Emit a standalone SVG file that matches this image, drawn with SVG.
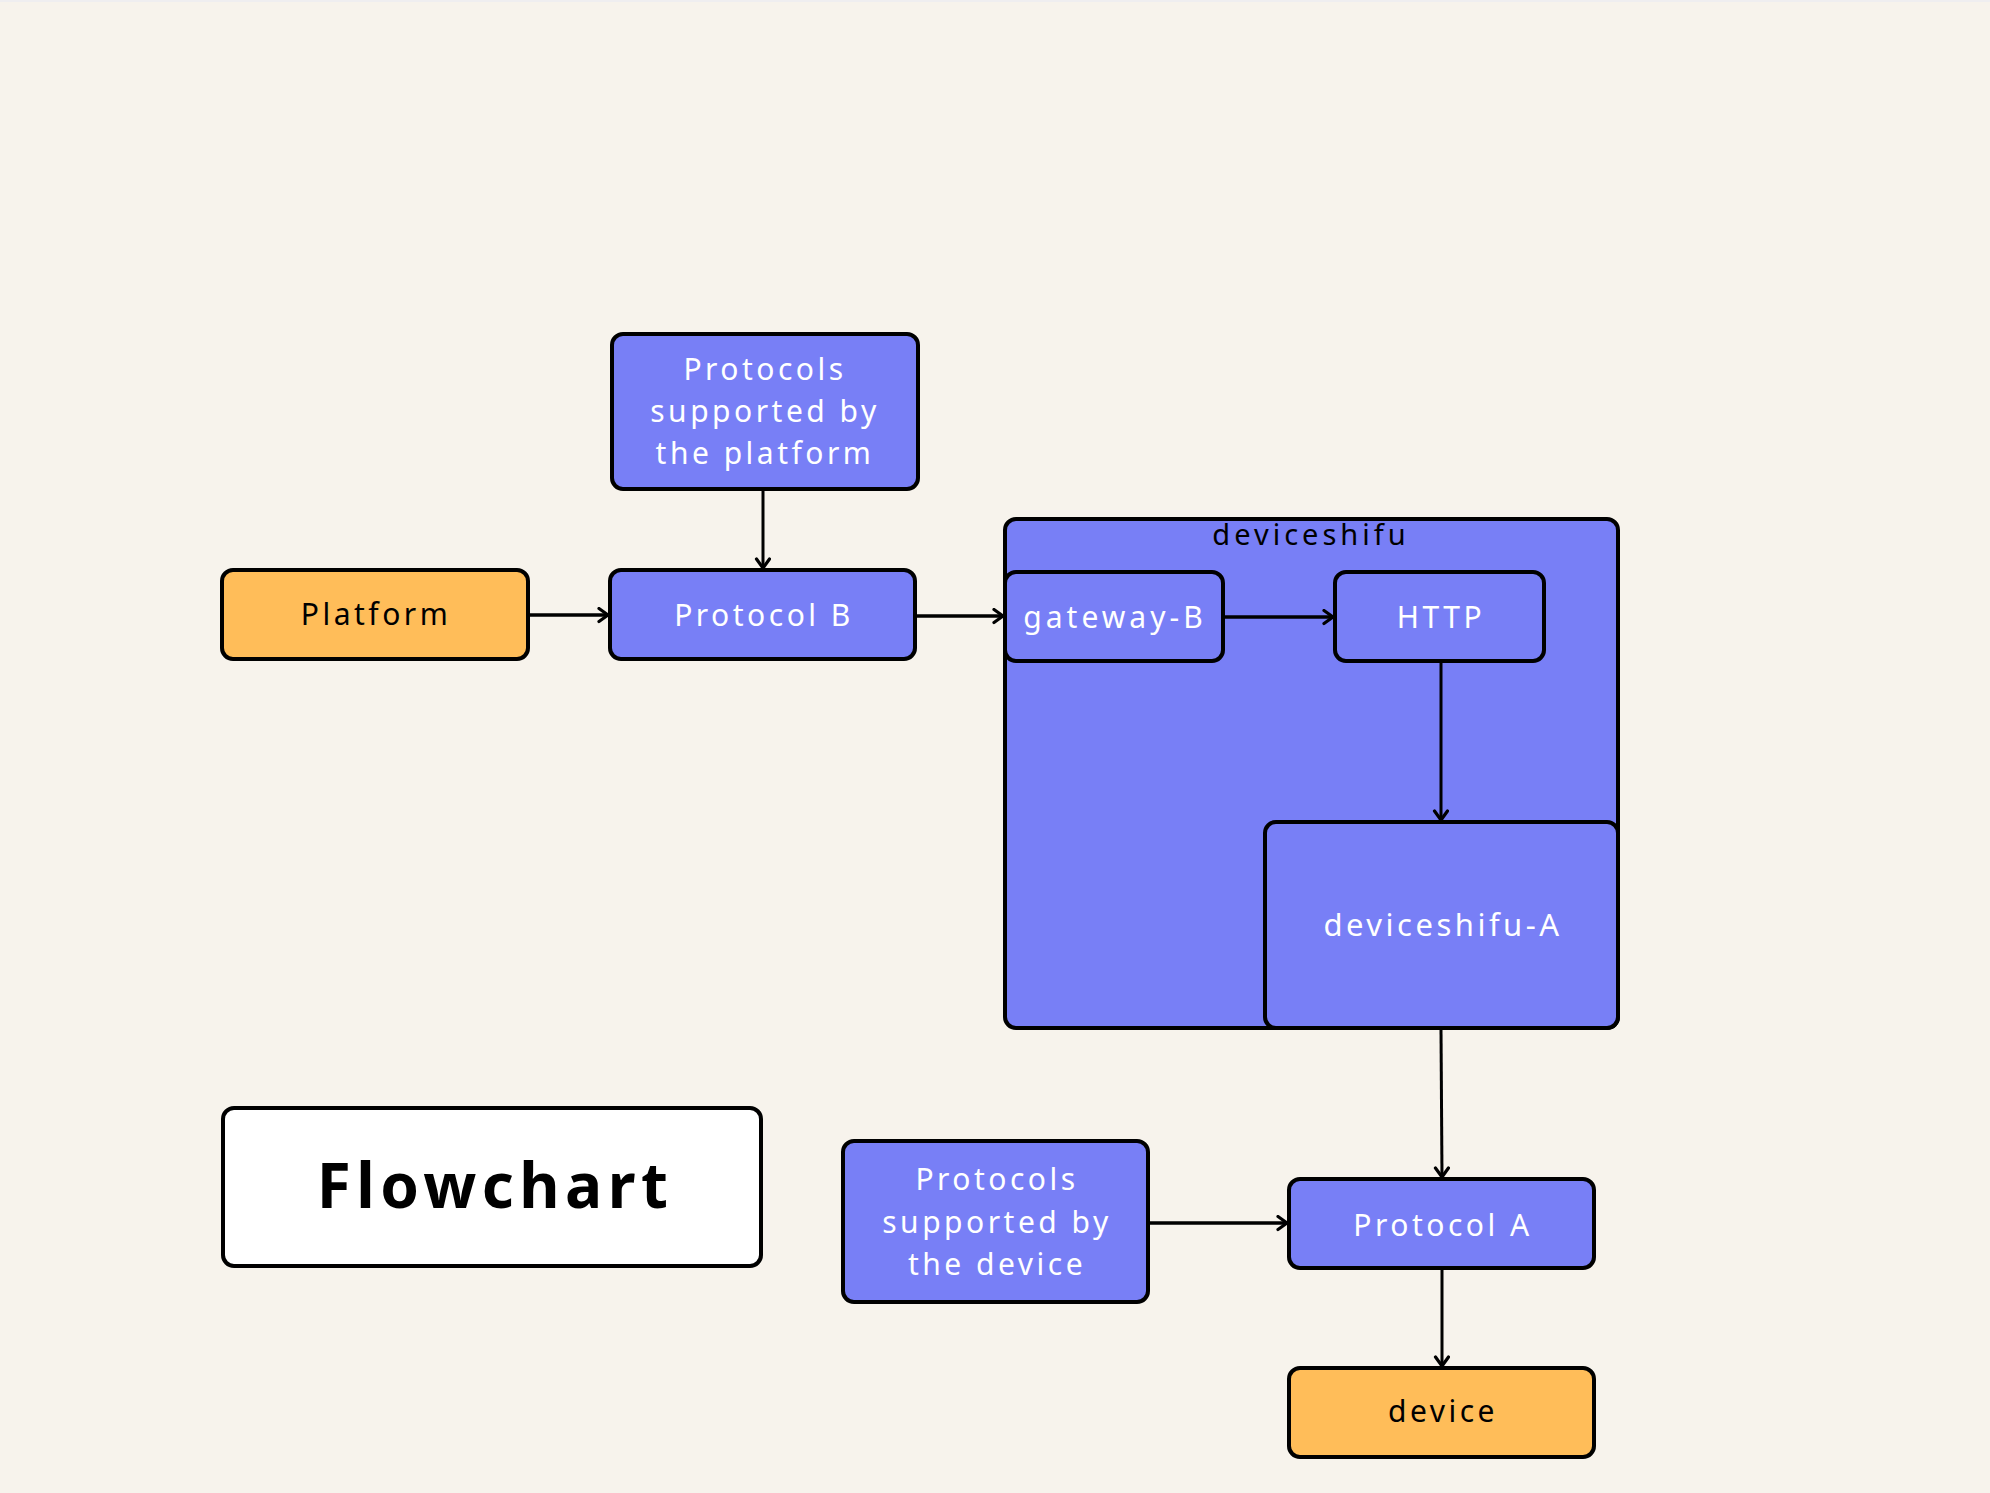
<svg xmlns="http://www.w3.org/2000/svg" width="1990" height="1493" viewBox="0 0 1990 1493">
<style>
.bg{fill:#F7F3EC}
.box{stroke:#000;stroke-width:4}
.blue{fill:#787FF6}
.orange{fill:#FFBD59}
.white{fill:#FFFFFF}
.lbl{font-family:"Noto Sans","Open Sans","DejaVu Sans",sans-serif;font-size:30px;letter-spacing:3.5px;text-anchor:middle;fill:#FFFFFF}
.dark{fill:#000000}
.title{font-family:"Noto Sans","Open Sans","DejaVu Sans",sans-serif;font-size:62px;font-weight:bold;letter-spacing:5.5px;text-anchor:middle;fill:#000}
.conn{fill:none;stroke:#000;stroke-width:3.5}
.connv{fill:none;stroke:#000;stroke-width:3}
</style>
<defs>
<marker id="arr" markerUnits="userSpaceOnUse" markerWidth="16" markerHeight="18" refX="12" refY="8" orient="auto">
<path d="M3,1.5 L12,8 L3,14.5" fill="none" stroke="#000" stroke-width="3.2" stroke-linecap="round" stroke-linejoin="round"/>
</marker>
</defs>
<rect class="bg" x="0" y="0" width="1990" height="1493"/>
<rect x="0" y="0" width="1990" height="2" fill="#EFEEF0"/>

<g id="container-deviceshifu">
<rect class="box blue" x="1005" y="519" width="613" height="509" rx="11"/>
<text class="lbl dark" x="1311" y="545" style="font-size:29px;letter-spacing:4px">deviceshifu</text>
</g>

<g id="node-platform">
<rect class="box orange" x="222" y="570" width="306" height="89" rx="11"/>
<text class="lbl dark" x="376" y="625">Platform</text>
</g>

<g id="node-protocols-platform">
<rect class="box blue" x="612" y="334" width="306" height="155" rx="11"/>
<text class="lbl" x="765" y="380">Protocols</text>
<text class="lbl" x="765" y="422">supported by</text>
<text class="lbl" x="765" y="464">the platform</text>
</g>

<g id="node-protocol-b">
<rect class="box blue" x="610" y="570" width="305" height="89" rx="11"/>
<text class="lbl" x="764" y="626">Protocol B</text>
</g>

<g id="node-gateway-b">
<rect class="box blue" x="1005" y="572" width="218" height="89" rx="11"/>
<text class="lbl" x="1115" y="628" style="letter-spacing:4px">gateway-B</text>
</g>

<g id="node-http">
<rect class="box blue" x="1335" y="572" width="209" height="89" rx="11"/>
<text class="lbl" x="1441" y="628">HTTP</text>
</g>

<g id="node-deviceshifu-a">
<rect class="box blue" x="1265" y="822" width="353" height="206" rx="11"/>
<text class="lbl" x="1443" y="936" style="font-size:31px">deviceshifu-A</text>
</g>

<g id="node-flowchart">
<rect class="box white" x="223" y="1108" width="538" height="158" rx="11"/>
<text class="title" x="495" y="1208">Flowchart</text>
</g>

<g id="node-protocols-device">
<rect class="box blue" x="843" y="1141" width="305" height="161" rx="11"/>
<text class="lbl" x="997" y="1190">Protocols</text>
<text class="lbl" x="997" y="1233">supported by</text>
<text class="lbl" x="997" y="1275">the device</text>
</g>

<g id="node-protocol-a">
<rect class="box blue" x="1289" y="1179" width="305" height="89" rx="11"/>
<text class="lbl" x="1443" y="1236">Protocol A</text>
</g>

<g id="node-device">
<rect class="box orange" x="1289" y="1368" width="305" height="89" rx="11"/>
<text class="lbl dark" x="1443" y="1422">device</text>
</g>

<g id="connectors">
<line class="conn" x1="530" y1="615" x2="608" y2="615" marker-end="url(#arr)"/>
<line class="connv" x1="763" y1="491" x2="763" y2="568" marker-end="url(#arr)"/>
<line class="conn" x1="917" y1="616" x2="1003" y2="616" marker-end="url(#arr)"/>
<line class="conn" x1="1225" y1="617" x2="1333" y2="617" marker-end="url(#arr)"/>
<line class="connv" x1="1441" y1="663" x2="1441" y2="820" marker-end="url(#arr)"/>
<line class="connv" x1="1441" y1="1030" x2="1442" y2="1177" marker-end="url(#arr)"/>
<line class="conn" x1="1150" y1="1223" x2="1287" y2="1223" marker-end="url(#arr)"/>
<line class="connv" x1="1442" y1="1270" x2="1442" y2="1366" marker-end="url(#arr)"/>
</g>
</svg>
